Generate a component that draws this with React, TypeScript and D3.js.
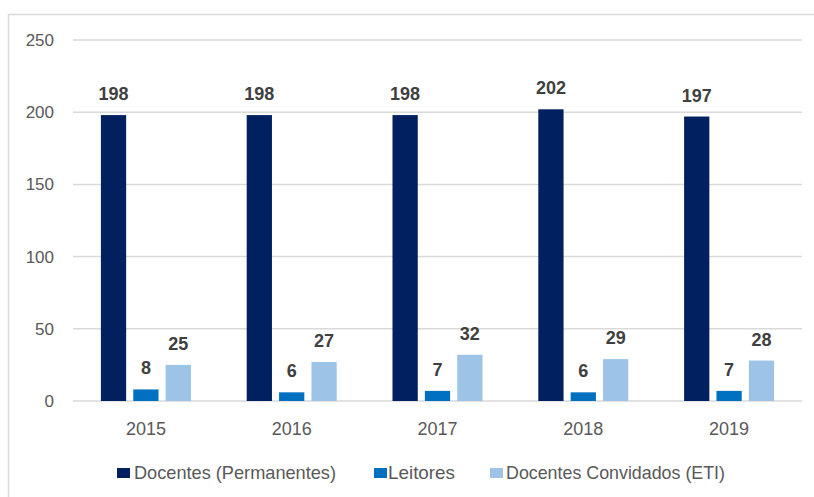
import React from "react";
import * as d3 from "d3";

const years = ["2015", "2016", "2017", "2018", "2019"];
const seriesNames = ["Docentes (Permanentes)", "Leitores", "Docentes Convidados (ETI)"];
const permanentes = [198, 198, 198, 202, 197];
const leitores = [8, 6, 7, 6, 7];
const convidados = [25, 27, 32, 29, 28];
const yTicks = [0, 50, 100, 150, 200, 250];
const colors = ["#002060", "#0070c0", "#9dc3e6"];

export default function App() {
  const W = 814, H = 497;
  const left = 73, right = 802, top = 40, bottom = 401;
  const y = d3.scaleLinear().domain([0, 250]).range([bottom, top]);
  const x0 = d3.scaleBand().domain(years).range([left, right]).padding(0);
  const bw = x0.bandwidth();
  const gw = 90;
  const x1 = d3.scaleBand().domain(seriesNames).range([(bw - gw) / 2, (bw + gw) / 2]).paddingInner(0.22);
  const data = [permanentes, leitores, convidados];
  const font = "'Liberation Sans', Arial, sans-serif";
  const legendX = [117, 374, 490];
  const legendTextX = [134, 388, 506];
  const legendTextLen = [202, 67, 219];
  return (
    <svg width={W} height={H} style={{ position: "absolute", left: 0, top: 0 }} fontFamily={font}>
      <rect x={0} y={0} width={W} height={H} fill="#fff" />
      <path d={`M8.5,${H} V14.5 H${W}`} fill="none" stroke="#d9d9d9" strokeWidth={1.5} />
      {yTicks.map((t) => (
        <g key={t}>
          <line x1={left} x2={right} y1={y(t)} y2={y(t)} stroke="#d9d9d9" strokeWidth={1.5} />
          <text x={54} y={y(t) + 6} textAnchor="end" fontSize={17} fill="#595959">{t}</text>
        </g>
      ))}
      {years.map((yr, i) => (
        <g key={yr} transform={`translate(${x0(yr)},0)`}>
          {seriesNames.map((s, j) => {
            const v = data[j][i];
            const bx = x1(s)!;
            return (
              <g key={s}>
                <rect x={bx} y={y(v)} width={x1.bandwidth()} height={bottom - y(v)} fill={colors[j]} />
                <text x={bx + x1.bandwidth() / 2} y={y(v) - 15} textAnchor="middle" fontSize={18} fontWeight="bold" fill="#404040">{v}</text>
              </g>
            );
          })}
          <text x={bw / 2} y={435} textAnchor="middle" fontSize={18} fill="#595959">{yr}</text>
        </g>
      ))}
      {seriesNames.map((s, j) => (
        <g key={s}>
          <rect x={legendX[j]} y={468} width={13} height={10} fill={colors[j]} />
          <text x={legendTextX[j]} y={479} fontSize={18.5} fill="#595959" textLength={legendTextLen[j]} lengthAdjust="spacingAndGlyphs">{s}</text>
        </g>
      ))}
    </svg>
  );
}
